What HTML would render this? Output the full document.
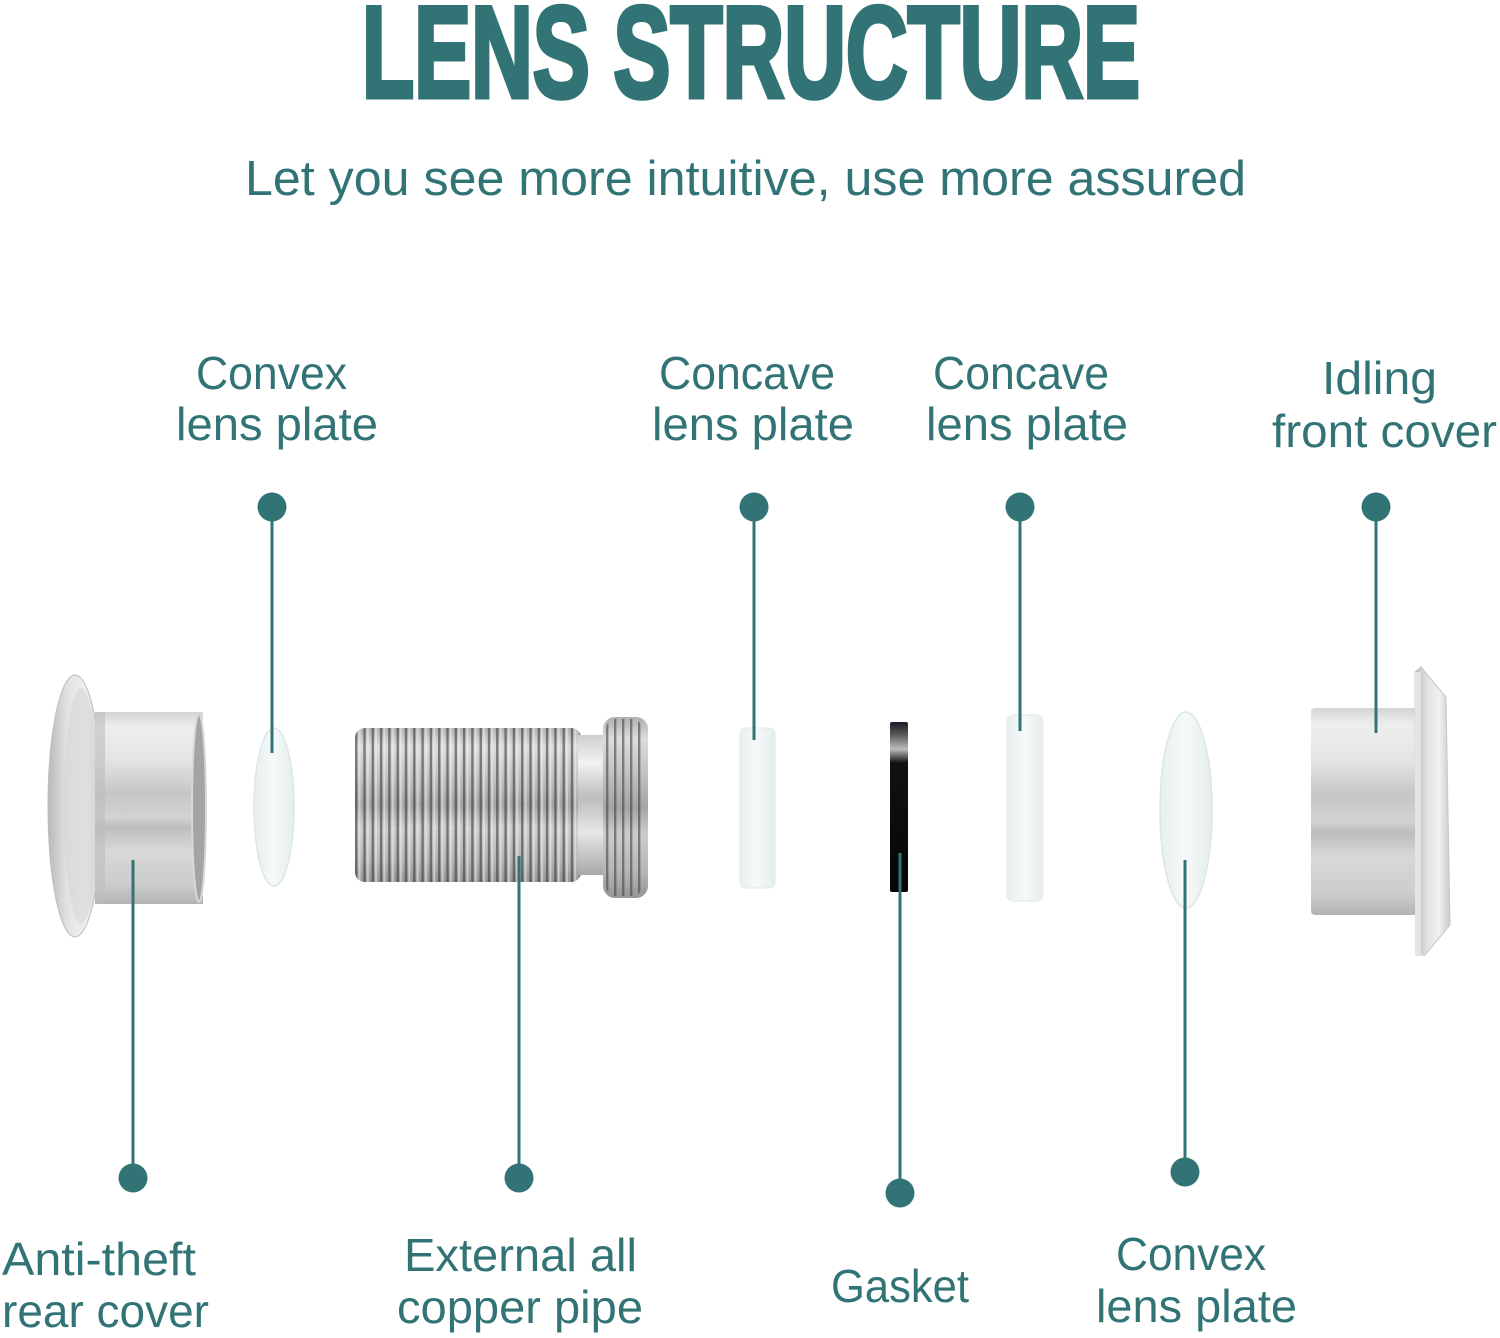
<!DOCTYPE html>
<html>
<head>
<meta charset="utf-8">
<style>
  html,body{margin:0;padding:0;background:#fff;}
  svg{display:block;}
  .t{font-family:"Liberation Sans",sans-serif;fill:#327476;}
</style>
</head>
<body>
<svg width="1500" height="1338" viewBox="0 0 1500 1338" xmlns="http://www.w3.org/2000/svg">
  <defs>
    <linearGradient id="bodyV" x1="0" y1="0" x2="0" y2="1">
      <stop offset="0" stop-color="#d4d4d4"/>
      <stop offset="0.08" stop-color="#eeeeee"/>
      <stop offset="0.25" stop-color="#e4e4e4"/>
      <stop offset="0.42" stop-color="#c6c6c6"/>
      <stop offset="0.55" stop-color="#d2d2d2"/>
      <stop offset="0.6" stop-color="#bcbcbc"/>
      <stop offset="0.72" stop-color="#d8d8d8"/>
      <stop offset="0.9" stop-color="#cccccc"/>
      <stop offset="1" stop-color="#b3b3b3"/>
    </linearGradient>
    <linearGradient id="flangeH" x1="0" y1="0" x2="1" y2="0">
      <stop offset="0" stop-color="#b8b8b8"/>
      <stop offset="0.35" stop-color="#e2e2e2"/>
      <stop offset="0.7" stop-color="#f0f0f0"/>
      <stop offset="1" stop-color="#cacaca"/>
    </linearGradient>
    <linearGradient id="pipeV" x1="0" y1="0" x2="0" y2="1">
      <stop offset="0" stop-color="#b0b0b0"/>
      <stop offset="0.12" stop-color="#dcdcdc"/>
      <stop offset="0.3" stop-color="#c4c4c4"/>
      <stop offset="0.5" stop-color="#a4a4a4"/>
      <stop offset="0.65" stop-color="#cdcdcd"/>
      <stop offset="0.85" stop-color="#b6b6b6"/>
      <stop offset="1" stop-color="#959595"/>
    </linearGradient>
    <linearGradient id="neckV" x1="0" y1="0" x2="0" y2="1">
      <stop offset="0" stop-color="#cfcfcf"/>
      <stop offset="0.2" stop-color="#f2f2f2"/>
      <stop offset="0.45" stop-color="#bdbdbd"/>
      <stop offset="0.7" stop-color="#e6e6e6"/>
      <stop offset="1" stop-color="#a8a8a8"/>
    </linearGradient>
    <pattern id="thr" x="355" y="0" width="8.3" height="10" patternUnits="userSpaceOnUse">
      <rect x="0" y="0" width="2.4" height="10" fill="#3c3c3c" opacity="0.6"/>
      <rect x="3.5" y="0" width="2" height="10" fill="#f4f4f4" opacity="0.5"/>
    </pattern>
    <pattern id="thr2" x="606" y="0" width="8" height="10" patternUnits="userSpaceOnUse">
      <rect x="0" y="0" width="2.4" height="10" fill="#444" opacity="0.6"/>
    </pattern>
    <linearGradient id="gasketV" x1="0" y1="0" x2="0" y2="1">
      <stop offset="0" stop-color="#1a1a2a"/>
      <stop offset="0.07" stop-color="#555"/>
      <stop offset="0.16" stop-color="#bdbdbd"/>
      <stop offset="0.24" stop-color="#111"/>
      <stop offset="1" stop-color="#050505"/>
    </linearGradient>
    <linearGradient id="lensH" x1="0" y1="0" x2="1" y2="0">
      <stop offset="0" stop-color="#e8efef"/>
      <stop offset="0.5" stop-color="#f5f9f9"/>
      <stop offset="1" stop-color="#e4eded"/>
    </linearGradient>
  </defs>

  <!-- Title -->
  <text class="t" x="362" y="97" font-size="130" font-weight="bold" textLength="778" lengthAdjust="spacingAndGlyphs" stroke="#327476" stroke-width="5" stroke-linejoin="miter">LENS STRUCTURE</text>
  <text class="t" x="245" y="195" font-size="49" textLength="1001" lengthAdjust="spacingAndGlyphs">Let you see more intuitive, use more assured</text>

  <!-- Top labels -->
  <text class="t" x="196" y="389" font-size="46" textLength="151" lengthAdjust="spacingAndGlyphs">Convex</text>
  <text class="t" x="176" y="440" font-size="46" textLength="202" lengthAdjust="spacingAndGlyphs">lens plate</text>
  <text class="t" x="659" y="389" font-size="46" textLength="176" lengthAdjust="spacingAndGlyphs">Concave</text>
  <text class="t" x="652" y="440" font-size="46" textLength="202" lengthAdjust="spacingAndGlyphs">lens plate</text>
  <text class="t" x="933" y="389" font-size="46" textLength="176" lengthAdjust="spacingAndGlyphs">Concave</text>
  <text class="t" x="926" y="440" font-size="46" textLength="202" lengthAdjust="spacingAndGlyphs">lens plate</text>
  <text class="t" x="1322" y="394" font-size="46" textLength="115" lengthAdjust="spacingAndGlyphs">Idling</text>
  <text class="t" x="1272" y="447" font-size="46" textLength="225" lengthAdjust="spacingAndGlyphs">front cover</text>

  <!-- Bottom labels -->
  <text class="t" x="2" y="1275" font-size="46" textLength="194" lengthAdjust="spacingAndGlyphs">Anti-theft</text>
  <text class="t" x="2" y="1327" font-size="46" textLength="207" lengthAdjust="spacingAndGlyphs">rear cover</text>
  <text class="t" x="404" y="1271" font-size="46" textLength="233" lengthAdjust="spacingAndGlyphs">External all</text>
  <text class="t" x="397" y="1323" font-size="46" textLength="246" lengthAdjust="spacingAndGlyphs">copper pipe</text>
  <text class="t" x="831" y="1302" font-size="46" textLength="138" lengthAdjust="spacingAndGlyphs">Gasket</text>
  <text class="t" x="1116" y="1270" font-size="46" textLength="150" lengthAdjust="spacingAndGlyphs">Convex</text>
  <text class="t" x="1096" y="1322" font-size="46" textLength="201" lengthAdjust="spacingAndGlyphs">lens plate</text>

  <!-- Anti-theft rear cover -->
  <ellipse cx="75" cy="806" rx="27" ry="131" fill="url(#flangeH)" stroke="#bdbdbd" stroke-width="1"/>
  <ellipse cx="81" cy="806" rx="17" ry="118" fill="#d6d6d6" opacity="0.6"/>
  <rect x="95" y="712" width="108" height="192" fill="url(#bodyV)"/>
  <rect x="95" y="712" width="10" height="192" fill="#bdbdbd" opacity="0.6"/>
  <ellipse cx="199" cy="808" rx="7" ry="94" fill="#a4a4a4" stroke="#d8d8d8" stroke-width="2"/>

  <!-- Convex lens 1 -->
  <ellipse cx="274" cy="807" rx="20" ry="79" fill="url(#lensH)" stroke="#dde7e7" stroke-width="1.5"/>

  <!-- Pipe -->
  <rect x="355" y="728" width="226" height="154" rx="10" fill="url(#pipeV)"/>
  <rect x="355" y="728" width="226" height="154" rx="10" fill="url(#thr)"/>
  <rect x="578" y="735" width="28" height="140" fill="url(#neckV)"/>
  <rect x="603" y="717" width="45" height="181" rx="12" fill="url(#pipeV)"/>
  <rect x="606" y="719" width="36" height="177" rx="10" fill="url(#thr2)"/>

  <!-- Concave lens 1 -->
  <rect x="740" y="728" width="35" height="160" rx="6" fill="url(#lensH)" stroke="#e3eaea" stroke-width="1"/>

  <!-- Gasket -->
  <rect x="890" y="722" width="18" height="170" rx="2" fill="url(#gasketV)"/>

  <!-- Concave lens 2 -->
  <rect x="1007" y="715" width="36" height="186" rx="6" fill="url(#lensH)" stroke="#e3eaea" stroke-width="1"/>

  <!-- Convex lens 2 -->
  <ellipse cx="1186" cy="810" rx="26" ry="98" fill="url(#lensH)" stroke="#dbe6e6" stroke-width="1.5"/>

  <!-- Idling front cover -->
  <rect x="1311" y="708" width="106" height="207" rx="4" fill="url(#bodyV)"/>
  <polygon points="1415,672 1421,667 1446,697 1450,925 1425,955 1416,955" fill="url(#flangeH)" stroke="#c6c6c6" stroke-width="1"/>
  <rect x="1415" y="672" width="6" height="283" fill="#e4e4e4"/>

  <!-- Connector lines -->
  <g stroke="#327476" stroke-width="3" fill="none">
    <line x1="272" y1="507" x2="272" y2="753"/>
    <line x1="754" y1="507" x2="754" y2="740"/>
    <line x1="1020" y1="507" x2="1020" y2="731"/>
    <line x1="1376" y1="507" x2="1376" y2="733"/>
    <line x1="133" y1="860" x2="133" y2="1178"/>
    <line x1="519" y1="856" x2="519" y2="1178"/>
    <line x1="900" y1="853" x2="900" y2="1193"/>
    <line x1="1185" y1="860" x2="1185" y2="1172"/>
  </g>
  <g fill="#327476">
    <circle cx="272" cy="507" r="14.5"/>
    <circle cx="754" cy="507" r="14.5"/>
    <circle cx="1020" cy="507" r="14.5"/>
    <circle cx="1376" cy="507" r="14.5"/>
    <circle cx="133" cy="1178" r="14.5"/>
    <circle cx="519" cy="1178" r="14.5"/>
    <circle cx="900" cy="1193" r="14.5"/>
    <circle cx="1185" cy="1172" r="14.5"/>
  </g>
</svg>
</body>
</html>
